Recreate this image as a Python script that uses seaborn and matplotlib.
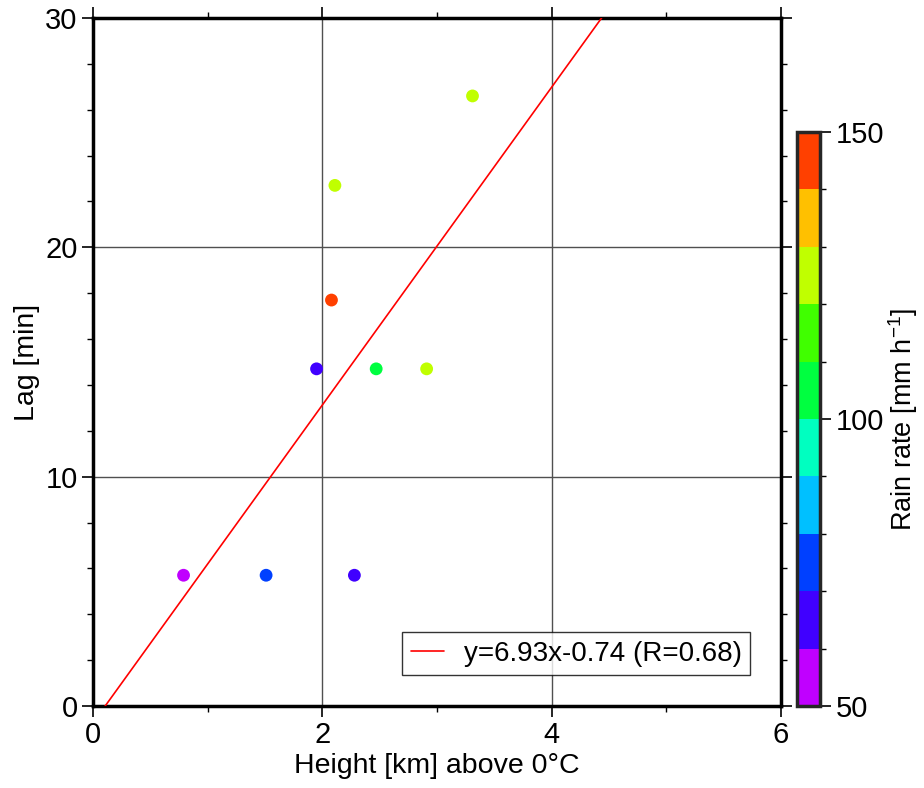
import numpy as np
import pandas as pd
import matplotlib
matplotlib.use("Agg")
import matplotlib.pyplot as plt
import matplotlib.colors as mcolors
from matplotlib.ticker import MultipleLocator
import seaborn as sns

# ---- data ----
height_km = [0.79, 1.51, 2.28, 1.95, 2.08, 2.11, 2.47, 2.91, 3.31]
lag_min = [5.7, 5.7, 5.7, 14.7, 17.7, 22.7, 14.7, 14.7, 26.6]
rain_rate = [55, 75, 65, 65, 145, 125, 105, 125, 125]
slope = 6.93
intercept = -0.74
fit_label = "y=6.93x-0.74 (R=0.68)"
cbar_ticks = [50, 100, 150]
bin_colors = ["#C000FF", "#4000FF", "#0040FF", "#00C0FF", "#00FFC0",
              "#00FF40", "#40FF00", "#C0FF00", "#FFC000", "#FF4000"]

sns.set_theme(style="white")
plt.rcParams['font.family'] = ['Liberation Sans', 'DejaVu Sans']
plt.rcParams['mathtext.fontset'] = 'custom'
plt.rcParams['mathtext.rm'] = 'Liberation Sans'
plt.rcParams['text.color'] = 'black'
plt.rcParams['axes.labelcolor'] = 'black'
plt.rcParams['xtick.color'] = 'black'
plt.rcParams['ytick.color'] = 'black'

cmap = mcolors.ListedColormap(bin_colors)
bounds = np.arange(50, 151, 10)
norm = mcolors.BoundaryNorm(bounds, cmap.N)

df = pd.DataFrame({"h": height_km, "lag": lag_min, "rain": rain_rate})
pal = {v: cmap(norm(v)) for v in sorted(set(rain_rate))}

fig = plt.figure(figsize=(9.24, 7.88), dpi=100)
ax = fig.add_axes([0.1006, 0.1041, 0.7446, 0.8731])
cax = fig.add_axes([0.8626, 0.1041, 0.0249, 0.7284])

ax.set_xlim(0, 6)
ax.set_ylim(0, 30)
ax.grid(True, which="major", color="#505050", lw=1.0, zorder=0)
ax.set_axisbelow(True)

xs = np.linspace(0, 6, 200)
fit = pd.DataFrame({"x": xs, "y": slope * xs + intercept})
sns.lineplot(data=fit, x="x", y="y", color="red", lw=1.2, ax=ax, label=fit_label, zorder=3)

sns.scatterplot(data=df, x="h", y="lag", hue="rain", palette=pal, s=85,
                edgecolor="none", legend=False, ax=ax, zorder=4)

ax.set_xlim(0, 6)
ax.set_ylim(0, 30)
ax.xaxis.set_major_locator(MultipleLocator(2))
ax.xaxis.set_minor_locator(MultipleLocator(1))
ax.yaxis.set_major_locator(MultipleLocator(10))
ax.yaxis.set_minor_locator(MultipleLocator(2))
ax.tick_params(which="both", direction="out", top=True, right=True,
               bottom=True, left=True, labelsize=21)
ax.tick_params(which="major", length=8, width=1.2, pad=3)
ax.tick_params(which="minor", length=4, width=1.0)
for sp in ax.spines.values():
    sp.set_linewidth(2.5)
    sp.set_color("black")
ax.set_xlabel("Height [km] above 0°C", fontsize=20.5, labelpad=3)
ax.set_ylabel("Lag [min]", fontsize=20.5, labelpad=4)

leg = ax.legend(loc="lower right", fontsize=20, frameon=True, fancybox=False,
                edgecolor="black", handlelength=1.2, borderpad=0.3,
                handletextpad=0.7, bbox_to_anchor=(0.975, 0.025))
leg.get_frame().set_linewidth(1.0)

sm = matplotlib.cm.ScalarMappable(cmap=cmap, norm=norm)
cb = fig.colorbar(sm, cax=cax, ticks=cbar_ticks)
cb.outline.set_linewidth(2.5)
cax.yaxis.set_minor_locator(MultipleLocator(10))
cax.tick_params(which="major", length=8, width=1.2, labelsize=21, direction="out", pad=3)
cax.tick_params(which="minor", length=4, width=1.0, direction="out")
cb.set_label(r"Rain rate [mm h$^{\mathregular{-1}}$]", fontsize=19.5, labelpad=2)

fig.savefig("out.png", dpi=100)
